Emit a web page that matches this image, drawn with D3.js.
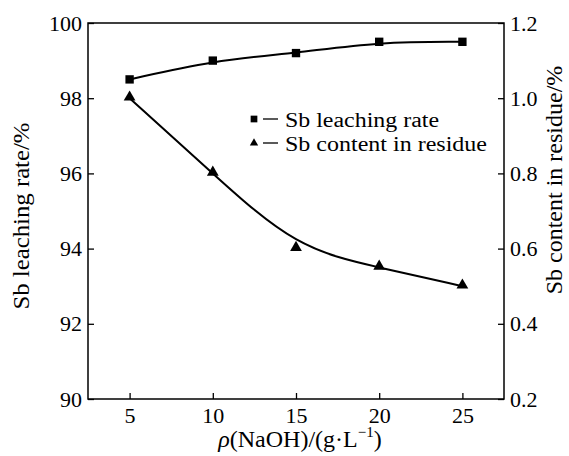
<!DOCTYPE html>
<html>
<head>
<meta charset="utf-8">
<script src="https://cdn.jsdelivr.net/npm/d3@7"></script>
<style>
body { margin: 0; background: #fff; }
text { font-family: "Liberation Serif", "Times New Roman", serif; fill: #000; }
</style>
</head>
<body>
<script>
// data
var naoh = [5, 10, 15, 20, 25];
var leachRate = [98.5, 99.0, 99.2, 99.5, 99.5];
var residue = [1.0, 0.8, 0.6, 0.55, 0.5];
var xTicks = [5, 10, 15, 20, 25];
var yLeftTicks = [90, 92, 94, 96, 98, 100];
var yRightTicks = [0.2, 0.4, 0.6, 0.8, 1.0, 1.2];

var width = 569, height = 456;
var m = {left: 88, right: 504, top: 23, bottom: 399};

var svg = d3.select("body").append("svg")
    .attr("width", width)
    .attr("height", height);

var x = d3.scaleLinear().domain([2.5, 27.5]).range([m.left, m.right]);
var yL = d3.scaleLinear().domain([90, 100]).range([m.bottom, m.top]);
var yR = d3.scaleLinear().domain([0.2, 1.2]).range([m.bottom, m.top]);

// frame
svg.append("rect")
    .attr("x", m.left).attr("y", m.top)
    .attr("width", m.right - m.left).attr("height", m.bottom - m.top)
    .attr("fill", "none").attr("stroke", "#000").attr("stroke-width", 1.5);

function styleAxis(g) {
    g.select(".domain").remove();
    g.selectAll(".tick line").attr("stroke", "#000").attr("stroke-width", 1.3);
    g.selectAll(".tick text").attr("font-size", 22).style("font-family", "Liberation Serif");
}

svg.append("g")
    .attr("transform", "translate(0," + m.bottom + ")")
    .call(d3.axisBottom(x).tickValues(xTicks).tickSizeInner(-6).tickPadding(8))
    .call(styleAxis);

svg.append("g")
    .attr("transform", "translate(" + m.left + ",0)")
    .call(d3.axisLeft(yL).tickValues(yLeftTicks).tickSizeInner(-6).tickPadding(6))
    .call(styleAxis);

svg.append("g")
    .attr("transform", "translate(" + m.right + ",0)")
    .call(d3.axisRight(yR).tickValues(yRightTicks).tickFormat(d3.format(".1f")).tickSizeInner(-6).tickPadding(6))
    .call(styleAxis);

// curves
var rateLine = d3.line()
    .x(function(d, i) { return x(naoh[i]); })
    .y(function(d) { return yL(d); })
    .curve(d3.curveBasis);
var resLine = d3.line()
    .x(function(d, i) { return x(naoh[i]); })
    .y(function(d) { return yR(d); })
    .curve(d3.curveBasis);

svg.append("path").attr("d", rateLine(leachRate))
    .attr("fill", "none").attr("stroke", "#000").attr("stroke-width", 2);
svg.append("path").attr("d", resLine(residue))
    .attr("fill", "none").attr("stroke", "#000").attr("stroke-width", 2);

var sq = d3.symbol().type(d3.symbolSquare).size(70);
var tri = d3.symbol().type(d3.symbolTriangle).size(60);

svg.selectAll(".sq").data(leachRate).enter().append("path")
    .attr("d", sq)
    .attr("transform", function(d, i) { return "translate(" + x(naoh[i]) + "," + yL(d) + ")"; })
    .attr("fill", "#000");

svg.selectAll(".tri").data(residue).enter().append("path")
    .attr("d", tri)
    .attr("transform", function(d, i) { return "translate(" + x(naoh[i]) + "," + (yR(d) - 1) + ")"; })
    .attr("fill", "#000");

// legend
var leg = svg.append("g").attr("transform", "translate(254,119)");
leg.append("path").attr("d", d3.symbol().type(d3.symbolSquare).size(45)).attr("fill", "#000");
leg.append("line").attr("x1", 9).attr("x2", 24).attr("y1", 0).attr("y2", 0).attr("stroke", "#000").attr("stroke-width", 1.3);
leg.append("text").attr("x", 31).attr("y", 8).attr("font-size", 20)
    .attr("textLength", 154).attr("lengthAdjust", "spacingAndGlyphs")
    .text("Sb leaching rate");

var leg2 = svg.append("g").attr("transform", "translate(254,143)");
leg2.append("path").attr("d", d3.symbol().type(d3.symbolTriangle).size(30)).attr("fill", "#000");
leg2.append("line").attr("x1", 9).attr("x2", 24).attr("y1", 0).attr("y2", 0).attr("stroke", "#000").attr("stroke-width", 1.3);
leg2.append("text").attr("x", 31).attr("y", 8).attr("font-size", 20)
    .attr("textLength", 202).attr("lengthAdjust", "spacingAndGlyphs")
    .text("Sb content in residue");

// axis titles
svg.append("text")
    .attr("transform", "translate(29,216) rotate(-90)")
    .attr("text-anchor", "middle").attr("font-size", 23)
    .attr("textLength", 187).attr("lengthAdjust", "spacingAndGlyphs")
    .text("Sb leaching rate/%");

svg.append("text")
    .attr("transform", "translate(562,180) rotate(-90)")
    .attr("text-anchor", "middle").attr("font-size", 24)
    .text("Sb content in residue/%");

var xt = svg.append("text")
    .attr("x", 300).attr("y", 447)
    .attr("text-anchor", "middle").attr("font-size", 24);
xt.append("tspan").attr("font-style", "italic").text("ρ");
xt.append("tspan").text("(NaOH)/(g·L");
xt.append("tspan").attr("font-size", 15).attr("dy", -10).text("−1");
xt.append("tspan").attr("dy", 10).text(")");
</script>
</body>
</html>
